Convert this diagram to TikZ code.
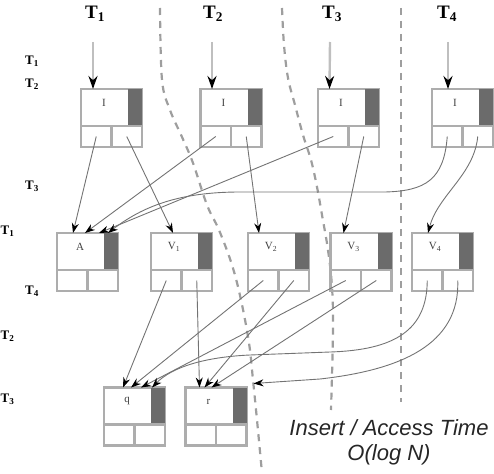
\documentclass[tikz,border=0pt]{standalone}
\usepackage{fontspec}
\setmainfont{Liberation Serif}
\newfontfamily\arialf{Liberation Sans}
\usetikzlibrary{arrows.meta,calc}
\newcommand\mkbox[4]{%
  \node[bx] (#1) at (#2,#3) {};
  \fill[dk] ($(#1.north east)+(-14,0)$) rectangle ($(#1.north east)+(0,37)$);
  \draw[bxl] ($(#1.north west)+(0,37)$) -- ($(#1.north east)+(0,37)$);
  \draw[bxl] ($(#1.north)+(0,37)$) -- (#1.south);
  \node[lbl] (#1-t) at ($(#1.north west)+(23,14)$) {#4};
  \coordinate (#1-L) at ($(#1.north west)+(15.25,47.5)$);
  \coordinate (#1-R) at ($(#1.north east)+(-15.25,47.5)$);
}
\begin{document}
\begin{tikzpicture}[x=1pt,y=-1pt,
  bx/.style={rectangle,draw=black!32,line width=2.4pt,minimum width=61pt,minimum height=58pt,inner sep=0pt,outer sep=0pt},
  bxl/.style={draw=black!32,line width=2.4pt},
  dk/.style={fill=black!58},
  lbl/.style={font=\fontsize{11}{13}\selectfont,text=black!75,inner sep=0pt},
  ptr/.style={draw=black!55,line width=0.9pt,-{Stealth[length=10pt,width=7pt,black]}},
  tin/.style={draw=black!25,line width=2.4pt,-{Stealth[length=13pt,width=9pt,black]}},
  dsh/.style={draw=black!38,line width=2.2pt,dash pattern=on 7pt off 6pt},
  tl/.style={font=\bfseries\fontsize{19}{21}\selectfont,inner sep=0pt,anchor=north west},
  sl/.style={font=\bfseries\fontsize{13}{15}\selectfont,inner sep=0pt,anchor=north west}
]
\useasboundingbox (0,0) rectangle (494,473);

% dashed partitions
\draw[dsh] plot[smooth,tension=0.6] coordinates {(160,8) (162,80) (170,110) (182,137) (193,163) (207,205) (219,230) (232,265) (241,300) (249,343) (253,380) (257,420) (262,473)};
\draw[dsh] plot[smooth,tension=0.6] coordinates {(282,8) (284,45) (288,78) (295,105) (303,135) (311,160) (317,187) (322,215) (328,250) (332,287) (333,330) (331,410)};
\draw[dsh,line width=2.8pt] (401,8) -- (401,402);

% boxes
\mkbox{B1}{111.5}{118}{I}
\mkbox{B2}{231}{118}{I}
\mkbox{B3}{348.5}{118}{I}
\mkbox{B4}{462.5}{118}{I}
\mkbox{A}{87.5}{262}{A}
\mkbox{V1}{181.5}{262}{V\textsubscript{1}}
\mkbox{V2}{278.5}{262}{V\textsubscript{2}}
\mkbox{V3}{361}{262}{V\textsubscript{3}}
\mkbox{V4}{442.5}{262}{V\textsubscript{4}}
\mkbox{Q}{134.5}{416.5}{q}
\mkbox{R}{216}{416.5}{r}

% top labels
\node[tl] (T1) at (85,6) {T\textsubscript{1}};
\node[tl] (T2) at (203,6) {T\textsubscript{2}};
\node[tl] (T3) at (322,6) {T\textsubscript{3}};
\node[tl] (T4) at (437,6) {T\textsubscript{4}};
\coordinate (t1s) at (93,42);
\coordinate (t2s) at (212,42);
\coordinate (t3s) at (330,42);
\coordinate (t4s) at (448,42);
\draw[tin] (t1s) -- ($(B1.north west)+(12,0)$);
\draw[tin] (t2s) -- ($(B2.north west)+(11.5,0)$);
\draw[tin] (t3s) -- ($(B3.north west)+(11.5,0)$);
\draw[tin] (t4s) -- ($(B4.north west)+(16,0)$);

% left labels
\node[sl] (L1) at (25,56) {T\textsubscript{1}};
\node[sl] (L2) at (25,79) {T\textsubscript{2}};
\node[sl] (L3) at (25,181) {T\textsubscript{3}};
\node[sl] (L4) at (0.5,226) {T\textsubscript{1}};
\node[sl] (L5) at (25,286) {T\textsubscript{4}};
\node[sl] (L6) at (0.5,331) {T\textsubscript{2}};
\node[sl] (L7) at (0.5,394) {T\textsubscript{3}};

% level 1 -> level 2
\draw[ptr] (B1-L) -- ($(A.north west)+(16,0)$);
\draw[ptr] (B1-R) -- ($(V1.north west)+(22,0)$);
\draw[ptr] (B2-L) -- ($(A.north west)+(28,0)$);
\draw[ptr] (B2-R) -- ($(V2.north west)+(11,0)$);
\draw[ptr] (B3-L) -- ($(A.north west)+(42,0)$);
\draw[ptr] (B3-R) -- ($(V3.north west)+(13,0)$);
\draw[ptr] (B4-L) .. controls (444,180) and (425,191) .. (385,192) -- (240,192) .. controls (178,192) and (142,207) .. ($(A.north west)+(51,0)$);
\draw[ptr] (B4-R) .. controls (474,175) and (438,195) .. ($(V4.north west)+(16,0)$);

% level 2 -> level 3
\draw[ptr] (V1-L) -- ($(Q.north west)+(19,0)$);
\draw[ptr] (V1-R) -- ($(R.north west)+(14,0)$);
\draw[ptr] (V2-L) -- ($(Q.north west)+(27,0)$);
\draw[ptr] (V2-R) -- ($(R.north west)+(19,0)$);
\draw[ptr] (V3-L) -- ($(Q.north west)+(37,0)$);
\draw[ptr] (V3-R) -- ($(R.north west)+(26,0)$);
\draw[ptr] (V4-L) .. controls (427,330) and (395,350) .. (330,352) -- (250,355) .. controls (205,357) and (172,367) .. ($(Q.north west)+(48,0)$);
\coordinate (Rin) at ($(R.north east)+(7,-4)$);
\draw[ptr] (V4-R) .. controls (460,345) and (400,370) .. (320,379) -- (Rin);

% caption
\node[font=\arialf\itshape\fontsize{22}{25}\selectfont,align=center,text=black!85,inner sep=0pt] (cap) at (389,442) {Insert / Access Time\\O(log N)};
\end{tikzpicture}
\end{document}
